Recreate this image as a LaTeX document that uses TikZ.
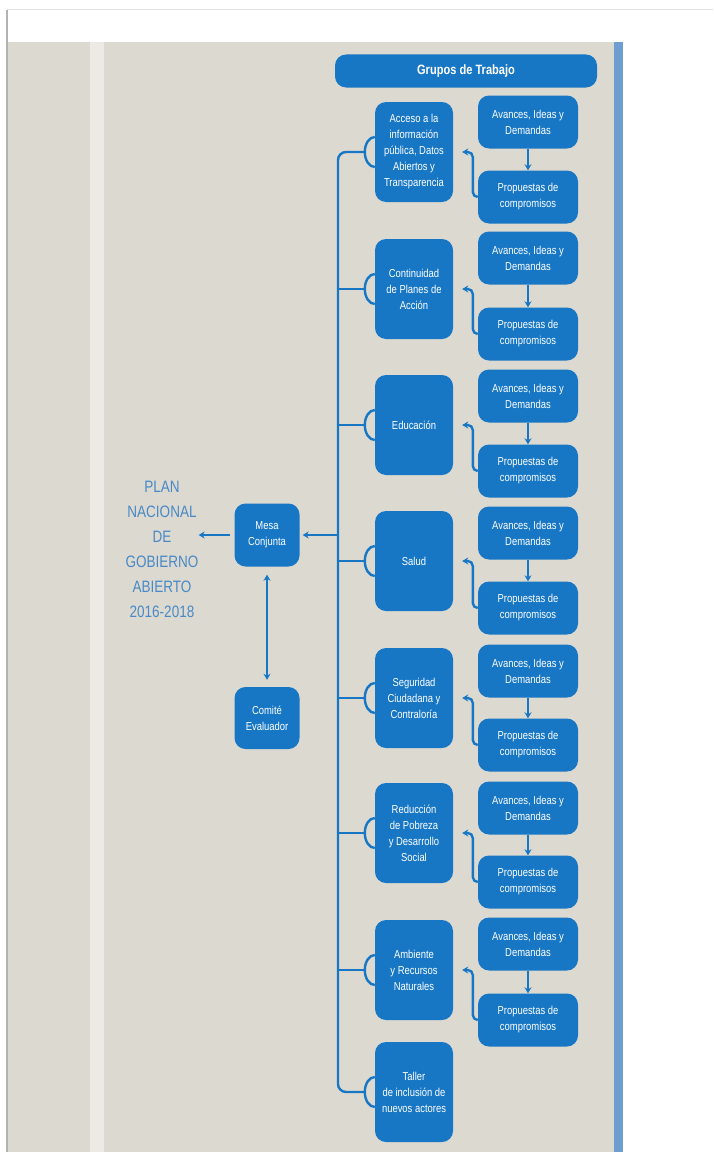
\documentclass[tikz,border=0pt]{standalone}
\usepackage{fontspec}
\setmainfont{Liberation Sans}[FakeStretch=0.82]
\usetikzlibrary{arrows.meta}
\usetikzlibrary{positioning}

\definecolor{panelgray}{RGB}{220,217,209}
\definecolor{stripegray}{RGB}{237,234,229}
\definecolor{boxblue}{RGB}{24,119,197}
\definecolor{barblue}{RGB}{110,157,208}
\definecolor{planblue}{RGB}{72,137,198}

\begin{document}
\begin{tikzpicture}[x=1pt, y=-1pt,
				grupo/.style={rectangle, rounded corners=11pt, fill=boxblue, text=white, align=center,
					minimum width=78pt, minimum height=100pt, inner sep=2pt, font=\fontsize{11.5}{16}\selectfont},
				tarea/.style={grupo, minimum width=100pt, minimum height=53pt},
				mesanode/.style={grupo, minimum width=65pt, minimum height=63pt},
				link/.style={draw=boxblue, line width=2.4pt},
				flecha/.style={-{Stealth[length=6pt,width=7pt]}},
				cup/.style={link, x radius=10pt, y radius=15pt},
				]
				\useasboundingbox (0,0) rectangle (713,1156);

				% Background
				\fill[white] (0,0) rectangle (713,1156);
				\fill[panelgray] (8,42) rectangle (614,1152);
				\fill[stripegray] (90,42) rectangle (104,1152);
				\fill[barblue] (614,42) rectangle (623,1152);
				\draw[gray!25, line width=1pt] (7,10) -- (713,10);
				\draw[gray!60, line width=1.5pt] (7,10) -- (7,1152);
				\coordinate (spine) at (338,0);

				% Header
				\node[grupo, minimum width=262pt, minimum height=33pt, font=\bfseries\fontsize{13.5}{16}\selectfont]
					(grupos) at (466,71) {Grupos de Trabajo};

				% Groups
				\node[grupo] (g1) at (414,152) {Acceso a la\\información\\pública, Datos\\Abiertos y\\Transparencia};
				\node[grupo] (g2) at (414,289) {Continuidad\\de Planes de\\Acción};
				\node[grupo] (g3) at (414,425) {Educación};
				\node[grupo] (g4) at (414,561) {Salud};
				\node[grupo] (g5) at (414,698) {Seguridad\\Ciudadana y\\Contraloría};
				\node[grupo] (g6) at (414,833) {Reducción\\de Pobreza\\y Desarrollo\\Social};
				\node[grupo] (g7) at (414,970) {Ambiente\\y Recursos\\Naturales};
				\node[grupo] (g8) at (414,1092) {Taller\\de inclusión de\\nuevos actores};

				% Avances
				\node[tarea] (a1) at (528,122) {Avances, Ideas y\\Demandas};
				\node[tarea] (a2) at (528,258) {Avances, Ideas y\\Demandas};
				\node[tarea] (a3) at (528,396) {Avances, Ideas y\\Demandas};
				\node[tarea] (a4) at (528,533) {Avances, Ideas y\\Demandas};
				\node[tarea] (a5) at (528,671) {Avances, Ideas y\\Demandas};
				\node[tarea] (a6) at (528,808) {Avances, Ideas y\\Demandas};
				\node[tarea] (a7) at (528,944) {Avances, Ideas y\\Demandas};

				% Propuestas
				\node[tarea] (p1) at (528,197) {Propuestas de\\compromisos};
				\node[tarea] (p2) at (528,334) {Propuestas de\\compromisos};
				\node[tarea] (p3) at (528,471) {Propuestas de\\compromisos};
				\node[tarea] (p4) at (528,608) {Propuestas de\\compromisos};
				\node[tarea] (p5) at (528,745) {Propuestas de\\compromisos};
				\node[tarea] (p6) at (528,882) {Propuestas de\\compromisos};
				\node[tarea] (p7) at (528,1020) {Propuestas de\\compromisos};

				% Mesa, Comite, Plan
				\node[mesanode] (mesa) at (267,535) {Mesa\\Conjunta};
				\node[mesanode, minimum height=62pt] (comite) at (267,718) {Comité\\Evaluador};
				\node[text=planblue, align=center, inner sep=0pt, font=\fontsize{16.5}{25}\selectfont]
					(plan) at (162,549) {PLAN\\NACIONAL\\DE\\GOBIERNO\\ABIERTO\\2016-2018};

				% Spine and branches
				\draw[link, rounded corners=8pt] ([xshift=-10pt]g1.west) -- (g1.west -| spine)
					-- (g8.west -| spine) -- ([xshift=-10pt]g8.west);
				\draw[link] (g2.west -| spine) -- ([xshift=-10pt]g2.west);
				\draw[link] (g3.west -| spine) -- ([xshift=-10pt]g3.west);
				\draw[link] (g4.west -| spine) -- ([xshift=-10pt]g4.west);
				\draw[link] (g5.west -| spine) -- ([xshift=-10pt]g5.west);
				\draw[link] (g6.west -| spine) -- ([xshift=-10pt]g6.west);
				\draw[link] (g7.west -| spine) -- ([xshift=-10pt]g7.west);

				% Cups
				\draw[cup] ([yshift=15pt]g1.west) arc[start angle=90, end angle=270];
				\draw[cup] ([yshift=15pt]g2.west) arc[start angle=90, end angle=270];
				\draw[cup] ([yshift=15pt]g3.west) arc[start angle=90, end angle=270];
				\draw[cup] ([yshift=15pt]g4.west) arc[start angle=90, end angle=270];
				\draw[cup] ([yshift=15pt]g5.west) arc[start angle=90, end angle=270];
				\draw[cup] ([yshift=15pt]g6.west) arc[start angle=90, end angle=270];
				\draw[cup] ([yshift=15pt]g7.west) arc[start angle=90, end angle=270];
				\draw[cup] ([yshift=15pt]g8.west) arc[start angle=90, end angle=270];

				% Avances -> Propuestas
				\draw[link, line width=1.8pt, flecha] (a1.south) -- (p1.north);
				\draw[link, line width=1.8pt, flecha] (a2.south) -- (p2.north);
				\draw[link, line width=1.8pt, flecha] (a3.south) -- (p3.north);
				\draw[link, line width=1.8pt, flecha] (a4.south) -- (p4.north);
				\draw[link, line width=1.8pt, flecha] (a5.south) -- (p5.north);
				\draw[link, line width=1.8pt, flecha] (a6.south) -- (p6.north);
				\draw[link, line width=1.8pt, flecha] (a7.south) -- (p7.north);

				% Propuestas -> Groups
				\draw[link, flecha, rounded corners=5pt] (p1.west) -- ++(-5,0) |- ([xshift=9pt]g1.east);
				\draw[link, flecha, rounded corners=5pt] (p2.west) -- ++(-5,0) |- ([xshift=9pt]g2.east);
				\draw[link, flecha, rounded corners=5pt] (p3.west) -- ++(-5,0) |- ([xshift=9pt]g3.east);
				\draw[link, flecha, rounded corners=5pt] (p4.west) -- ++(-5,0) |- ([xshift=9pt]g4.east);
				\draw[link, flecha, rounded corners=5pt] (p5.west) -- ++(-5,0) |- ([xshift=9pt]g5.east);
				\draw[link, flecha, rounded corners=5pt] (p6.west) -- ++(-5,0) |- ([xshift=9pt]g6.east);
				\draw[link, flecha, rounded corners=5pt] (p7.west) -- ++(-5,0) |- ([xshift=9pt]g7.east);

				% Mesa arrows
				\draw[link, flecha] (mesa.east -| spine) -- ([xshift=3pt]mesa.east);
				\draw[link, flecha] ([xshift=-4pt]mesa.west) -- (mesa.west -| plan.east);
				\draw[link, line width=1.8pt, {Stealth[length=6pt,width=7pt]}-{Stealth[length=6pt,width=7pt]}]
					([yshift=-8pt]mesa.south) -- ([yshift=7pt]comite.north);
			\end{tikzpicture}
\end{document}
